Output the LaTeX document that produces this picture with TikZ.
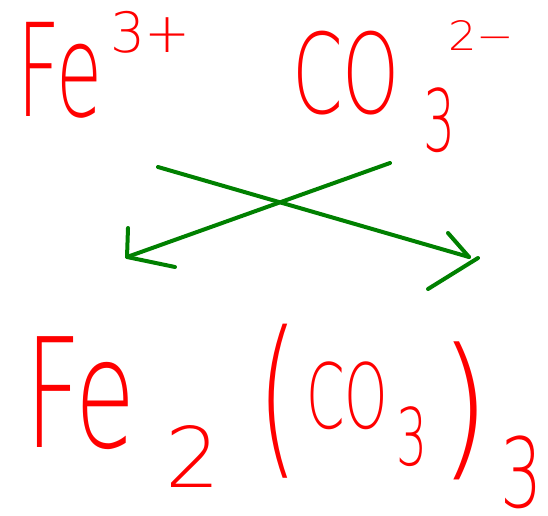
\documentclass[tikz,border=0pt]{standalone}
\usepackage{fontspec}
\setmainfont{DejaVu Sans ExtraLight}
\usepackage{graphicx}
\definecolor{inkred}{RGB}{255,0,0}
\definecolor{inkgreen}{RGB}{0,128,0}
\tikzset{
  glyph/.style={anchor=north west, inner sep=0pt, outer sep=0pt, text=inkred},
  pen/.style={draw=inkgreen, line width=4pt, line cap=round, line join=round}
}
\newcommand\hw[3]{\resizebox*{#1pt}{#2pt}{#3}}
\begin{document}
\begin{tikzpicture}[x=1pt,y=-1pt]
\useasboundingbox (0,0) rectangle (548,515);
% top row
\node[glyph] (fe1) at (17,22) {\hw{85}{96}{Fe}};
\node[glyph] (ch1) at (110,11) {\hw{81}{42}{3+}};
\node[glyph] (co1) at (292,31) {\hw{108}{84}{CO}};
\node[glyph] (sb1) at (423,88) {\hw{32}{65}{3}};
\node[glyph] (ch2) at (448,20) {\hw{66}{30}{2−}};
% bottom row
\node[glyph] (fe2) at (25,337) {\hw{111}{113}{Fe}};
\node[glyph] (sb2) at (165,425) {\hw{55}{62}{2}};
\node[glyph] (lp) at (257,324) {\hw{41}{154}{(}};
\node[glyph] (co2) at (306,362) {\hw{82}{68}{CO}};
\node[glyph] (sb3) at (396,407) {\hw{31}{60}{3}};
\node[glyph] (rp) at (439,342) {\hw{51}{138}{)}};
\node[glyph] (sb4) at (500,436) {\hw{42}{73}{3}};
% arrows
\coordinate (a1s) at (158,167);
\coordinate (a1e) at (469,257);
\coordinate (a1h1) at (448,233);
\coordinate (a1h2) at (478,258);
\coordinate (a1h3) at (428,289);
\coordinate (a2s) at (390,163);
\coordinate (a2e) at (127,257);
\coordinate (a2h1) at (128,228);
\coordinate (a2h2) at (175,267);
\draw[pen] (a1s) -- (a1e);
\draw[pen] (a1h1) -- (a1e);
\draw[pen] (a1h2) -- (a1h3);
\draw[pen] (a2s) -- (a2e);
\draw[pen] (a2h1) -- (a2e) -- (a2h2);
\end{tikzpicture}
\end{document}
